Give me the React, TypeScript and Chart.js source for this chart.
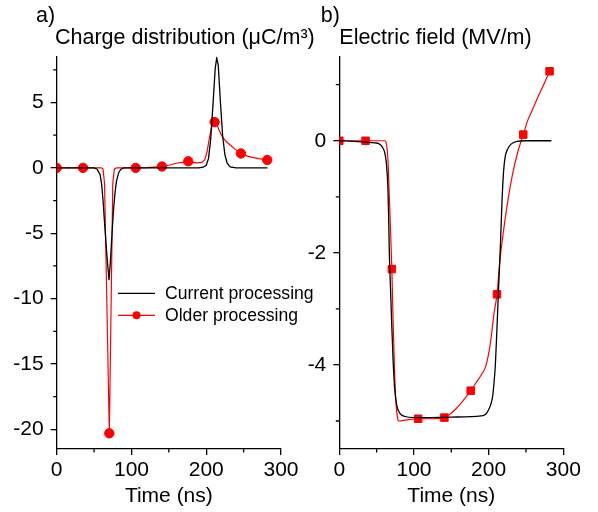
import React, { useEffect, useRef } from 'react';
import { Chart, registerables } from 'chart.js';

Chart.register(...registerables);

const FONT = '"Liberation Sans", Arial, Helvetica, sans-serif';

// ---------- Panel a) charge distribution (µC/m³) ----------
const chargeCurrentTime = [0, 20, 40, 50, 54, 58, 60, 62, 64, 66, 68, 70, 72, 74, 76, 78, 80, 83, 86, 90, 100, 150, 190, 196, 200, 203, 206, 209, 212, 214, 216, 219, 222, 225, 228, 232, 240, 260, 282];
const chargeCurrentValue = [0, 0, 0, 0, -0.1, -0.5, -1.2, -2.5, -4.2, -5.8, -7.3, -8.6, -7.0, -5.0, -3.2, -1.9, -1.0, -0.35, -0.1, 0, 0, 0, 0, 0.05, 0.2, 0.7, 2.2, 4.8, 7.6, 8.4, 7.9, 5.0, 2.4, 1.0, 0.35, 0.08, 0, 0, 0];

const chargeOlderTime = [0, 35.2, 55, 60, 62, 64, 70.4, 75, 77, 80, 90, 105.6, 120, 140.8, 150, 160, 168, 176, 182, 188, 194, 198, 201, 204, 207, 211.2, 214, 217, 221, 226, 232, 238, 246.4, 252, 260, 270, 281.6];
const chargeOlderValue = [0, 0, 0, 0, -0.1, -1.2, -20.3, -1.2, -0.1, 0, 0, 0, 0.02, 0.1, 0.2, 0.35, 0.42, 0.5, 0.42, 0.38, 0.42, 0.6, 1.2, 2.2, 3.1, 3.5, 3.4, 2.9, 2.45, 2.05, 1.75, 1.45, 1.1, 0.95, 0.82, 0.7, 0.6];

// ---------- Panel b) electric field (MV/m) ----------
const fieldCurrentTime = [0, 20, 40, 50, 55, 58, 61, 63, 65, 66, 67, 68.5, 70, 72, 74, 77, 81, 88, 100, 150, 190, 196, 200, 203, 205.5, 207, 209, 211, 213, 216, 218, 220, 222, 225, 230, 238, 250, 284];
const fieldCurrentValue = [0, -0.01, -0.03, -0.04, -0.07, -0.12, -0.22, -0.4, -0.8, -1.3, -2.0, -2.6, -3.2, -3.9, -4.4, -4.72, -4.86, -4.92, -4.94, -4.93, -4.91, -4.88, -4.8, -4.7, -4.55, -4.35, -4.0, -3.4, -2.74, -1.78, -1.05, -0.55, -0.3, -0.16, -0.06, -0.01, 0, 0];

const fieldOlderTime = [0, 35.2, 55, 61, 63, 65, 67, 70.4, 72, 74, 76, 78, 80, 90, 105.6, 125, 140.8, 146, 155, 165, 176, 185, 190, 196, 200, 203, 207, 211.2, 215, 220, 226, 232, 239, 246.4, 252, 258, 265, 272, 281.6];
const fieldOlderValue = [0, 0, 0, 0, -0.05, -0.3, -1.0, -2.29, -3.2, -4.1, -4.7, -4.95, -5.0, -4.98, -4.96, -4.96, -4.94, -4.9, -4.8, -4.65, -4.46, -4.28, -4.18, -4.03, -3.8, -3.55, -3.1, -2.74, -2.15, -1.6, -1.05, -0.6, -0.2, 0.11, 0.35, 0.53, 0.75, 0.95, 1.24];

// marker positions of the "Older processing" series
const markerTimes = [0, 35.2, 70.4, 105.6, 140.8, 176, 211.2, 246.4, 281.6];

// ---------- ticks ----------
const timeMajorTicks = [0, 100, 200, 300];
const timeMinorTicks = [50, 150, 250];
const chargeMajorTicks = [-20, -15, -10, -5, 0, 5];
const chargeMinorTicks = [-17.5, -12.5, -7.5, -2.5, 2.5, 7.5];
const fieldMajorTicks = [-4, -2, 0];
const fieldMinorTicks = [-5, -3, -1, 1];

const seriesLabels = ['Current processing', 'Older processing'];
const panelLabels = ['a)', 'b)'];
const panelTitles = ['Charge distribution (\u03BCC/m\u00B3)', 'Electric field (MV/m)'];
const xAxisTitle = 'Time (ns)';

const BLACK = '#000000';
const RED = '#ff0000';

type TextItem = { text: string; x: number; y: number; size: number };

function minorTicksPlugin(xMinor: number[], yMinor: number[], len: number) {
  return {
    id: 'minorTicks',
    afterDraw(chart: any) {
      const { ctx, chartArea, scales } = chart;
      ctx.save();
      ctx.strokeStyle = BLACK;
      ctx.lineWidth = 1.3;
      ctx.beginPath();
      for (const v of xMinor) {
        const px = scales.x.getPixelForValue(v);
        ctx.moveTo(px, chartArea.bottom);
        ctx.lineTo(px, chartArea.bottom + len);
      }
      for (const v of yMinor) {
        const py = scales.y.getPixelForValue(v);
        ctx.moveTo(chartArea.left, py);
        ctx.lineTo(chartArea.left - len, py);
      }
      ctx.stroke();
      ctx.restore();
    },
  };
}

function textPlugin(items: TextItem[], legend: null | { x0: number; x1: number; tx: number; y: number[]; size: number }) {
  return {
    id: 'textOverlay',
    afterDraw(chart: any) {
      const { ctx } = chart;
      ctx.save();
      ctx.fillStyle = BLACK;
      ctx.textBaseline = 'alphabetic';
      ctx.textAlign = 'left';
      for (const it of items) {
        ctx.font = `${it.size}px ${FONT}`;
        ctx.fillText(it.text, it.x, it.y);
      }
      if (legend) {
        chart.data.datasets.forEach((ds: any, i: number) => {
          const ly = legend.y[i];
          ctx.strokeStyle = ds.borderColor;
          ctx.lineWidth = ds.borderWidth;
          ctx.beginPath();
          ctx.moveTo(legend.x0, ly);
          ctx.lineTo(legend.x1, ly);
          ctx.stroke();
          if (ds.legendMarker) {
            ctx.fillStyle = ds.borderColor;
            ctx.beginPath();
            ctx.arc((legend.x0 + legend.x1) / 2, ly, 4, 0, Math.PI * 2);
            ctx.fill();
          }
          ctx.fillStyle = BLACK;
          ctx.font = `${legend.size}px ${FONT}`;
          ctx.textBaseline = 'middle';
          ctx.fillText(ds.label, legend.tx, ly + 1);
        });
      }
      ctx.restore();
    },
  };
}

function toPoints(xs: number[], ys: number[]) {
  return xs.map((x, i) => ({ x, y: ys[i] }));
}

function makeConfig(p: {
  current: { x: number; y: number }[];
  older: { x: number; y: number }[];
  olderTimes: number[];
  markerStyle: string;
  markerRadius: number;
  yMin: number;
  yMax: number;
  yMajor: number[];
  yMinor: number[];
  axisLeft: number;
  padRight: number;
  tension: number;
  monotone: boolean;
  texts: TextItem[];
  legend: any;
}) {
  const axisCommon = {
    border: { display: true, color: BLACK, width: 1.3 },
    grid: { display: true, drawOnChartArea: false, drawTicks: true, tickLength: 6, color: BLACK, lineWidth: 1.3 },
  };
  return {
    type: 'line' as const,
    data: {
      datasets: [
        {
          label: seriesLabels[0],
          data: p.current,
          borderColor: BLACK,
          backgroundColor: BLACK,
          borderWidth: 1.3,
          pointRadius: 0,
          tension: p.tension,
          cubicInterpolationMode: p.monotone ? 'monotone' : 'default',
          fill: false,
          legendMarker: false,
        },
        {
          label: seriesLabels[1],
          data: p.older,
          borderColor: RED,
          backgroundColor: RED,
          borderWidth: 1.2,
          pointStyle: p.markerStyle,
          pointRadius: p.olderTimes.map((t) => (markerTimes.includes(t) ? p.markerRadius : 0)),
          pointBackgroundColor: RED,
          pointBorderColor: RED,
          pointBorderWidth: 1,
          tension: p.tension,
          cubicInterpolationMode: p.monotone ? 'monotone' : 'default',
          fill: false,
          legendMarker: true,
        },
      ],
    },
    options: {
      animation: false,
      responsive: false,
      events: [],
      layout: { padding: { left: 0, right: p.padRight, top: 56.7, bottom: 0 } },
      plugins: { legend: { display: false }, title: { display: false }, tooltip: { enabled: false } },
      scales: {
        x: {
          type: 'linear',
          min: 0,
          max: 300,
          ...axisCommon,
          afterBuildTicks: (s: any) => {
            s.ticks = timeMajorTicks.map((v) => ({ value: v }));
          },
          afterFit: (s: any) => {
            s.height = 63;
          },
          ticks: {
            color: BLACK,
            font: { family: FONT, size: 21 },
            padding: 3,
            maxRotation: 0,
            callback: (v: any) => String(v),
          },
          title: {
            display: true,
            text: xAxisTitle,
            color: BLACK,
            font: { family: FONT, size: 21 },
            padding: { top: 0, bottom: 3.4 },
          },
        },
        y: {
          type: 'linear',
          min: p.yMin,
          max: p.yMax,
          ...axisCommon,
          afterBuildTicks: (s: any) => {
            s.ticks = p.yMajor.map((v) => ({ value: v }));
          },
          afterFit: (s: any) => {
            s.width = p.axisLeft;
          },
          ticks: {
            color: BLACK,
            font: { family: FONT, size: 21 },
            padding: 7,
            callback: (v: any) => String(v),
          },
        },
      },
    },
    plugins: [minorTicksPlugin(timeMinorTicks, p.yMinor, 3.5), textPlugin(p.texts, p.legend)],
  };
}

function Panel(props: { left: number; width: number; config: any }) {
  const ref = useRef<HTMLCanvasElement | null>(null);
  useEffect(() => {
    if (!ref.current) return;
    const chart = new Chart(ref.current, props.config);
    return () => chart.destroy();
  }, []);
  return (
    <canvas
      ref={ref}
      width={props.width}
      height={512}
      style={{ position: 'absolute', left: props.left, top: 0, width: props.width, height: 512 }}
    />
  );
}

export default function App() {
  const chargeConfig = makeConfig({
    current: toPoints(chargeCurrentTime, chargeCurrentValue),
    older: toPoints(chargeOlderTime, chargeOlderValue),
    olderTimes: chargeOlderTime,
    markerStyle: 'circle',
    markerRadius: 4.7,
    yMin: -21.5,
    yMax: 8.5,
    yMajor: chargeMajorTicks,
    yMinor: chargeMinorTicks,
    axisLeft: 56.7,
    padRight: 330 - 281,
    tension: 0,
    monotone: false,
    texts: [
      { text: panelLabels[0], x: 36, y: 22, size: 21.5 },
      { text: panelTitles[0], x: 55, y: 44.3, size: 21.5 },
    ],
    legend: { x0: 118, x1: 155, tx: 165, y: [293.3, 315.3], size: 17.6 },
  });
  const fieldConfig = makeConfig({
    current: toPoints(fieldCurrentTime, fieldCurrentValue),
    older: toPoints(fieldOlderTime, fieldOlderValue),
    olderTimes: fieldOlderTime,
    markerStyle: 'rect',
    markerRadius: 5.3,
    yMin: -5.5,
    yMax: 1.5,
    yMajor: fieldMajorTicks,
    yMinor: fieldMinorTicks,
    axisLeft: 39.3,
    padRight: 298 - 263.3,
    tension: 0.4,
    monotone: true,
    texts: [
      { text: panelLabels[1], x: 20.7, y: 22, size: 21.5 },
      { text: panelTitles[1], x: 39.3, y: 44.3, size: 21.5 },
    ],
    legend: null,
  });
  return (
    <div style={{ position: 'absolute', left: 0, top: 0, width: 598, height: 512, background: '#ffffff' }}>
      <Panel left={0} width={330} config={chargeConfig} />
      <Panel left={300} width={298} config={fieldConfig} />
    </div>
  );
}
